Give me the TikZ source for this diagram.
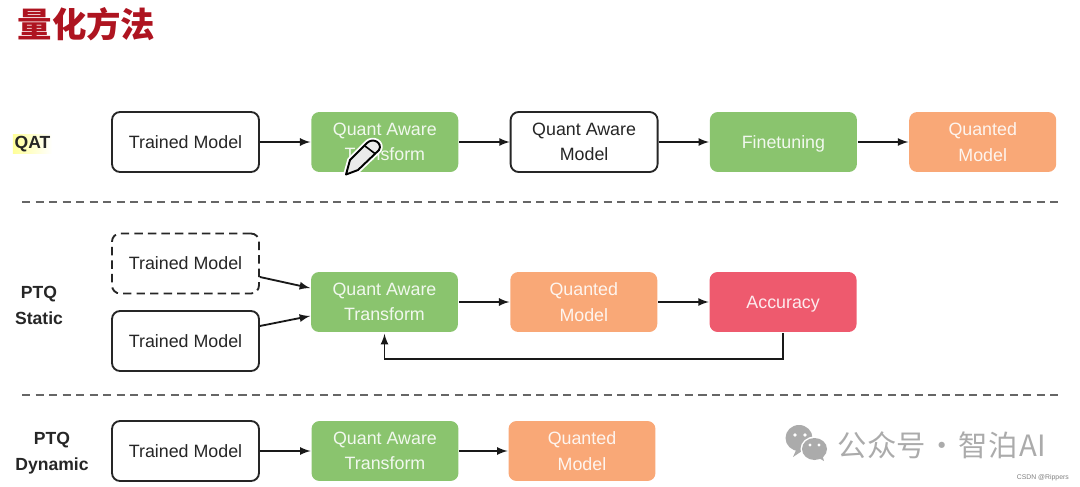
\documentclass[tikz,border=0pt]{standalone}
\usepackage{fontspec}
\usepackage{xcolor}
\usepackage{tikz}
\usetikzlibrary{positioning}
\setmainfont{Liberation Sans}
\newfontfamily\cjk{Noto Sans CJK SC}

\definecolor{qgreen}{HTML}{8AC46E}
\definecolor{qorange}{HTML}{F9A877}
\definecolor{qred}{HTML}{EE5A6E}
\definecolor{qtitle}{HTML}{AE1420}
\definecolor{qmark}{HTML}{ABABAB}

\begin{document}
\begin{tikzpicture}[x=0.02cm,y=-0.02cm]
    \tikzstyle{every node}=[font=\fontsize{10.15pt}{12pt}\selectfont,node distance=1.01cm]
    \tikzstyle{every path}=[line width=1.05pt]
    \tikzstyle{qbox}=[minimum width=2.94cm,minimum height=1.2cm,rounded corners=0.16cm,align=center,inner sep=0pt]
    \tikzstyle{wnode}=[qbox,draw=black!85,fill=white,text=black!85]
    \tikzstyle{gnode}=[qbox,fill=qgreen,text=white!88!qgreen]
    \tikzstyle{onode}=[qbox,fill=qorange,text=white!88!qorange]
    \tikzstyle{rnode}=[qbox,fill=qred,text=white!88!qred]
    \tikzstyle{lbl}=[font=\fontsize{10pt}{14.8pt}\selectfont\bfseries,align=center,inner sep=0pt,text=black!85]
    \tikzstyle{sep}=[dash pattern=on 4.6pt off 3.1pt,draw=black!60]
    \tikzstyle{conn}=[-latex,draw=black!90]

    \useasboundingbox (0,0) rectangle (1080,487);

    \node[font=\cjk\bfseries\fontsize{19.6pt}{20pt}\selectfont,text=qtitle,inner sep=0pt] (title) at (86.5,24.5) {量化方法};

    % QAT row
    \node[lbl,font=\fontsize{10pt}{12pt}\selectfont\bfseries,left color=yellow!40,right color=white,inner sep=1pt] (qat) at (32.5,144) {QAT};
    \node[wnode] (qatmodel) at (185.5,142) {Trained Model};
    \node[gnode,right=of qatmodel] (qatquant) {Quant Aware\\[2.4pt]Transform};
    \node[wnode,right=of qatquant] (qataware) {Quant Aware\\[2.4pt]Model};
    \node[gnode,right=of qataware,text depth=0pt] (qatfine) {Finetuning};
    \node[onode,right=of qatfine] (qatout) {Quanted\\[2.4pt]Model};

    \draw[conn] (qatmodel) -- (qatquant);
    \draw[conn] (qatquant) -- (qataware);
    \draw[conn] (qataware) -- (qatfine);
    \draw[conn] (qatfine) -- (qatout);

    % pencil mark on the slide
    \draw[line width=3.2pt,draw=white,fill=white,line join=round] (346,174.5) -- (350,160) -- (367,143) .. controls (373,137) and (383,143) .. (379,150) -- (358,170) -- cycle;
    \draw[line width=1.1pt,draw=black,fill=white!92!black,line join=round] (346,174.5) -- (350,160) -- (367,143) .. controls (373,137) and (383,143) .. (379,150) -- (358,170) -- cycle;
    \draw[line width=0.9pt,draw=black] (365,146) -- (375.5,154);

    \coordinate (sepaleft) at (22,202);
    \coordinate (separight) at (1060,202);
    \draw[sep] (sepaleft) -- (separight);

    % PTQ static row
    \node[lbl] (ptqs) at (39,305) {PTQ\\Static};
    \node[wnode,dash pattern=on 4.8pt off 2.9pt] (calib) at (185.5,263.5) {Trained Model};
    \node[wnode] (statmodel) at (185.5,341) {Trained Model};
    \node[gnode] (statquant) at (384.5,302) {Quant Aware\\[2.4pt]Transform};
    \node[onode,right=of statquant] (statout) {Quanted\\[2.4pt]Model};
    \node[rnode,right=of statout,text depth=0pt] (acc) {Accuracy};

    \draw[conn] ([yshift=-0.27cm]calib.east) -- ([yshift=0.28cm]statquant.west);
    \draw[conn] ([yshift=0.3cm]statmodel.east) -- ([yshift=-0.28cm]statquant.west);
    \draw[conn] (statquant) -- (statout);
    \draw[conn] (statout) -- (acc);
    \draw[conn] (acc.south) -- ++(0,26.5) -| ([yshift=-0.02cm]statquant.south);

    \coordinate (sepbleft) at (22,395);
    \coordinate (sepbright) at (1060,395);
    \draw[sep] (sepbleft) -- (sepbright);

    % PTQ dynamic row
    \node[lbl] (ptqd) at (52,453) {PTQ\\Dynamic};
    \node[wnode] (dynmodel) at (185.5,451) {Trained Model};
    \node[gnode] (dynquant) at (385,451) {Quant Aware\\[2.4pt]Transform};
    \node[onode] (dynout) at (582,451) {Quanted\\[2.4pt]Model};

    \draw[conn] (dynmodel) -- (dynquant);
    \draw[conn] (dynquant) -- (dynout);

    % watermark
    \fill[qmark] (799,438) ellipse (13.5 and 13);
    \fill[qmark] (797,448) -- (793,457) -- (805,449) -- cycle;
    \fill[white] (814.5,449) ellipse (14 and 12.5);
    \fill[qmark] (814.5,449) ellipse (12.5 and 11);
    \fill[qmark] (817,457) -- (824,461) -- (822,454) -- cycle;
    \fill[white] (795,435) circle (1.8) (805,435) circle (1.8) (810,445) circle (1.6) (819,445) circle (1.6);
    \node[font=\cjk\fontsize{16.7pt}{18pt}\selectfont,text=qmark,inner sep=0pt,anchor=west] (mark) at (837,445) {公众号\hspace{1pt}·\hspace{1pt}智泊\hspace{1pt}AI};
    \node[font=\fontsize{3.9pt}{4pt}\selectfont,text=black!50,inner sep=0pt,anchor=west] (csdn) at (1016,478) {CSDN @Rippers};
\end{tikzpicture}
\end{document}
